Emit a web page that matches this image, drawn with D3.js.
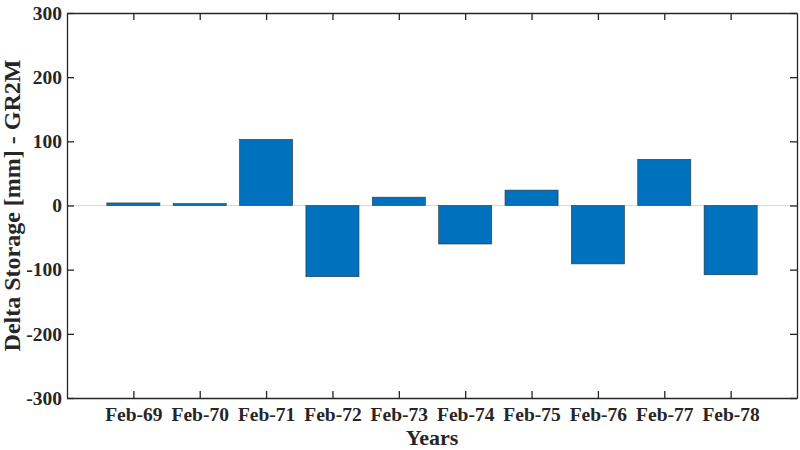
<!DOCTYPE html>
<html>
<head>
<meta charset="utf-8">
<script src="https://cdn.jsdelivr.net/npm/d3@7"></script>
<style>
    body { margin: 0; background: #ffffff; }
    svg text { font-family: "Liberation Serif", "Times New Roman", serif; font-weight: bold; fill: #262626; }
</style>
</head>
<body>
<div class="chart"></div>
<script>
// 数据
const years = ['Feb-69', 'Feb-70', 'Feb-71', 'Feb-72', 'Feb-73', 'Feb-74', 'Feb-75', 'Feb-76', 'Feb-77', 'Feb-78'];
const deltaStorage = [4, 3, 103, -111, 13, -60, 24, -91, 72, -108];
const yTicks = [-300, -200, -100, 0, 100, 200, 300];

const width = 800, height = 450;
const margin = {top: 13, right: 3, bottom: 52, left: 67};
const innerW = width - margin.left - margin.right;
const innerH = height - margin.top - margin.bottom;

let svg = d3.select('.chart')
    .append('svg')
    .attr('width', width)
    .attr('height', height);
let g = svg.append('g')
    .attr('transform', `translate(${margin.left},${margin.top})`);

// 比例尺：类别位于 1..10，两端各留一格
const x = d3.scaleLinear().domain([0, years.length + 1]).range([0, innerW]);
const y = d3.scaleLinear().domain([-300, 300]).range([innerH, 0]);
const barW = (x(1) - x(0)) * 0.8;
const axisColor = '#262626';

// 零线
g.append('line')
    .attr('x1', 0).attr('x2', innerW)
    .attr('y1', y(0)).attr('y2', y(0))
    .attr('stroke', '#d9d9d9')
    .attr('stroke-width', 1);

// 柱子
g.selectAll('rect.bar')
    .data(deltaStorage)
    .enter()
    .append('rect')
    .attr('class', 'bar')
    .attr('x', (d, i) => x(i + 1) - barW / 2)
    .attr('width', barW)
    .attr('y', d => y(Math.max(0, d)))
    .attr('height', d => Math.abs(y(d) - y(0)))
    .attr('fill', '#0072BD')
    .attr('stroke', '#333333')
    .attr('stroke-width', 0.6);

// 坐标轴（刻度朝内）
const tickIdx = years.map((d, i) => i + 1);
const fmtX = i => years[i - 1];

const xAxis = g.append('g')
    .attr('transform', `translate(0,${innerH})`)
    .call(d3.axisBottom(x).tickValues(tickIdx).tickFormat(fmtX).tickSizeInner(-7).tickSizeOuter(0).tickPadding(9));
const xTop = g.append('g')
    .call(d3.axisTop(x).tickValues(tickIdx).tickFormat('').tickSizeInner(-7).tickSizeOuter(0));
const yAxis = g.append('g')
    .call(d3.axisLeft(y).tickValues(yTicks).tickFormat(d => String(d)).tickSizeInner(-7).tickSizeOuter(0).tickPadding(5));
const yRight = g.append('g')
    .attr('transform', `translate(${innerW},0)`)
    .call(d3.axisRight(y).tickValues(yTicks).tickFormat('').tickSizeInner(-7).tickSizeOuter(0));

[xAxis, xTop, yAxis, yRight].forEach(a => {
    a.selectAll('path').attr('stroke', axisColor).attr('stroke-width', 1.3);
    a.selectAll('line').attr('stroke', axisColor).attr('stroke-width', 1.3);
    a.selectAll('text')
        .attr('font-family', '"Liberation Serif", "Times New Roman", serif')
        .attr('font-weight', 'bold')
        .attr('font-size', 19.5)
        .attr('fill', axisColor);
});

// 轴标题
svg.append('text')
    .attr('x', margin.left + x(5.5))
    .attr('y', 445)
    .attr('text-anchor', 'middle')
    .attr('font-size', 22)
    .text('Years');
svg.append('text')
    .attr('transform', `translate(20,${margin.top + y(0)}) rotate(-90)`)
    .attr('text-anchor', 'middle')
    .attr('font-size', 24)
    .text('Delta Storage [mm] - GR2M');
</script>
</body>
</html>
